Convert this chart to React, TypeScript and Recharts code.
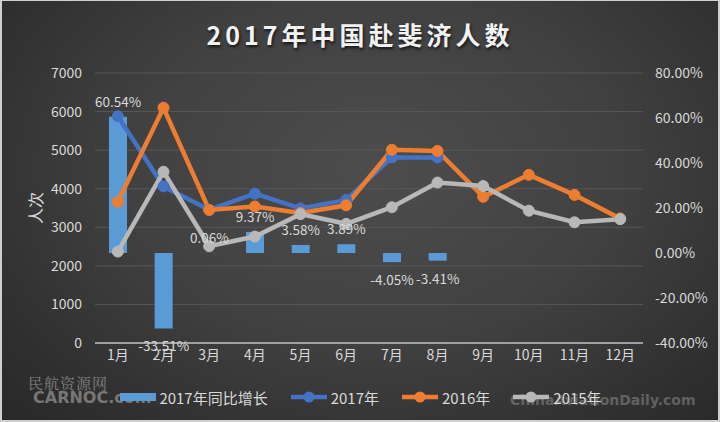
import React from 'react';
import {
  ComposedChart,
  Bar,
  Line,
  XAxis,
  YAxis,
  CartesianGrid,
  Legend,
  LabelList,
} from 'recharts';

const months = ['1月', '2月', '3月', '4月', '5月', '6月', '7月', '8月', '9月', '10月', '11月', '12月'];
const growth2017: (number | null)[] = [60.54, -33.51, 0.06, 9.37, 3.58, 3.89, -4.05, -3.41, null, null, null, null];
const visitors2017: (number | null)[] = [5880, 4060, 3452, 3870, 3490, 3710, 4810, 4810, null, null, null, null];
const visitors2016: number[] = [3660, 6100, 3450, 3540, 3370, 3570, 5010, 4980, 3790, 4360, 3840, 3230];
const visitors2015: number[] = [2370, 4440, 2510, 2760, 3340, 3090, 3520, 4160, 4070, 3430, 3130, 3210];
const leftTicks = [0, 1000, 2000, 3000, 4000, 5000, 6000, 7000];
const rightTicks = [-0.4, -0.2, 0, 0.2, 0.4, 0.6, 0.8];

const title = '2017年中国赴斐济人数';
const yTitle = '人次';
const seriesNames = { growth: '2017年同比增长', y2017: '2017年', y2016: '2016年', y2015: '2015年' };

const COLORS = {
  bar: '#5B9BD5',
  y2017: '#4472C4',
  y2016: '#ED7D31',
  y2015: '#B8B8B8',
  text: '#D9D9D9',
  grid: '#575757',
  axis: '#BFBFBF',
};

const data = months.map((m, i) => ({
  month: m,
  growth: growth2017[i] == null ? null : (growth2017[i] as number) / 100,
  y2017: visitors2017[i],
  y2016: visitors2016[i],
  y2015: visitors2015[i],
}));

const FONT = '"Noto Sans CJK SC", "Noto Sans", sans-serif';

const pct = (v: number) => `${(v * 100).toFixed(2)}%`;

const BarLabel = (props: any) => {
  const { x, y, width, height, value } = props;
  if (value == null) return null;
  const top = Math.min(y, y + height);
  const bottom = Math.max(y, y + height);
  const cx = x + width / 2;
  const ty = value >= 0 ? top - 16 : bottom + 17;
  return (
    <text
      x={cx}
      y={ty}
      textAnchor="middle"
      dominantBaseline="central"
      fill={COLORS.text}
      fontSize={13.5}
      fontFamily={FONT}
    >
      {pct(value)}
    </text>
  );
};

const YLabel = (props: any) => {
  const vb = props.viewBox || {};
  const x = vb.x - 15;
  const y = vb.y + vb.height / 2;
  return (
    <text
      x={x}
      y={y}
      transform={`rotate(-90, ${x}, ${y})`}
      textAnchor="middle"
      dominantBaseline="central"
      fill={COLORS.text}
      fontSize={16}
      fontFamily={FONT}
    >
      {yTitle}
    </text>
  );
};

const legendItems = [
  { key: 'growth', type: 'bar', color: COLORS.bar },
  { key: 'y2017', type: 'line', color: COLORS.y2017 },
  { key: 'y2016', type: 'line', color: COLORS.y2016 },
  { key: 'y2015', type: 'line', color: COLORS.y2015 },
];

const LegendContent = () => (
  <div
    style={{
      display: 'flex',
      justifyContent: 'center',
      alignItems: 'center',
      height: 24,
      width: 720,
      fontFamily: FONT,
      fontSize: 15,
      color: COLORS.text,
      gap: 22,
    }}
  >
    {legendItems.map((it) => (
      <div key={it.key} style={{ display: 'flex', alignItems: 'center', gap: 3 }}>
        <svg width={38} height={14}>
          {it.type === 'bar' ? (
            <rect x={2} y={3} width={36} height={8} fill={it.color} />
          ) : (
            <g>
              <line x1={1} y1={7} x2={37} y2={7} stroke={it.color} strokeWidth={4.5} />
              <circle cx={19} cy={7} r={5.5} fill={it.color} />
            </g>
          )}
        </svg>
        <span>{(seriesNames as any)[it.key]}</span>
      </div>
    ))}
  </div>
);

export default function App() {
  return (
    <div
      style={{
        position: 'absolute',
        left: 0,
        top: 0,
        width: 720,
        height: 422,
        boxSizing: 'border-box',
        borderTop: '1px solid #cfcfcf',
        borderLeft: '2px solid #cfcfcf',
        borderRight: '2px solid #cfcfcf',
        borderBottom: '2px solid #cfcfcf',
        background:
          'radial-gradient(ellipse 75% 90% at 52% 40%, #4d4d4d 0%, #414141 45%, #2f2f2f 80%, #272727 100%)',
        overflow: 'hidden',
        fontFamily: FONT,
      }}
    >
      <div
        style={{
          position: 'absolute',
          left: 0,
          top: 15,
          width: 716,
          textAlign: 'center',
          color: '#F2F2F2',
          fontSize: 25,
          fontWeight: 700,
          letterSpacing: 4,
          lineHeight: '36px',
          textShadow: '1px 2px 3px rgba(0,0,0,0.7)',
        }}
      >
        {title}
      </div>
      <div
        style={{
          position: 'absolute',
          left: 26,
          top: 371,
          color: '#8f8f8f',
          fontSize: 15,
          fontFamily: '"Noto Serif CJK SC", "Noto Sans CJK SC", serif',
          letterSpacing: 1,
          opacity: 0.85,
          pointerEvents: 'none',
        }}
      >
        民航资源网
      </div>
      <div
        style={{
          position: 'absolute',
          left: 31,
          top: 387,
          color: '#8a8a8a',
          fontSize: 16,
          fontWeight: 900,
          fontFamily: '"DejaVu Sans", sans-serif',
          opacity: 0.8,
          pointerEvents: 'none',
        }}
      >
        CARNOC.com
      </div>
      <div
        style={{
          position: 'absolute',
          left: 508,
          top: 391,
          color: '#8a8a8a',
          fontSize: 14,
          fontWeight: 900,
          fontFamily: '"DejaVu Sans", sans-serif',
          opacity: 0.55,
          pointerEvents: 'none',
        }}
      >
        ChinaAviationDaily.com
      </div>
      <div style={{ position: 'absolute', left: -2, top: -1 }}>
        <ComposedChart
          width={720}
          height={422}
          data={data}
          margin={{ top: 73, right: 12, left: 50, bottom: 13 }}
        >
          <CartesianGrid yAxisId="left" horizontal vertical={false} stroke={COLORS.grid} strokeWidth={1} />
          <XAxis
            dataKey="month"
            tickLine={false}
            axisLine={{ stroke: COLORS.axis, strokeWidth: 1.5 }}
            tick={{ fill: COLORS.text, fontSize: 14, fontFamily: FONT }}
            height={42}
            tickSize={0}
            tickMargin={7}
            interval={0}
          />
          <YAxis
            yAxisId="left"
            orientation="left"
            domain={[0, 7000]}
            ticks={leftTicks}
            width={45}
            tickLine={false}
            axisLine={false}
            tickSize={0}
            tickMargin={13}
            tick={{ fill: COLORS.text, fontSize: 14, fontFamily: FONT }}
            label={<YLabel />}
          />
          <YAxis
            yAxisId="right"
            orientation="right"
            domain={[-0.4, 0.8]}
            ticks={rightTicks}
            width={65}
            tickLine={false}
            axisLine={false}
            tickSize={0}
            tickMargin={12}
            tickFormatter={pct}
            tick={{ fill: COLORS.text, fontSize: 14, fontFamily: FONT }}
          />
          <Bar
            yAxisId="right"
            dataKey="growth"
            name={seriesNames.growth}
            fill={COLORS.bar}
            barSize={18}
            isAnimationActive={false}
          >
            <LabelList dataKey="growth" content={<BarLabel />} />
          </Bar>
          <Line
            yAxisId="left"
            type="linear"
            dataKey="y2017"
            name={seriesNames.y2017}
            stroke={COLORS.y2017}
            strokeWidth={4.5}
            dot={{ r: 5.5, fill: COLORS.y2017, stroke: COLORS.y2017, strokeWidth: 1 }}
            activeDot={false}
            isAnimationActive={false}
          />
          <Line
            yAxisId="left"
            type="linear"
            dataKey="y2016"
            name={seriesNames.y2016}
            stroke={COLORS.y2016}
            strokeWidth={4.5}
            dot={{ r: 5.5, fill: COLORS.y2016, stroke: COLORS.y2016, strokeWidth: 1 }}
            activeDot={false}
            isAnimationActive={false}
          />
          <Line
            yAxisId="left"
            type="linear"
            dataKey="y2015"
            name={seriesNames.y2015}
            stroke={COLORS.y2015}
            strokeWidth={4.5}
            dot={{ r: 5.5, fill: COLORS.y2015, stroke: COLORS.y2015, strokeWidth: 1 }}
            activeDot={false}
            isAnimationActive={false}
          />
          <Legend verticalAlign="bottom" content={<LegendContent />} wrapperStyle={{ left: 0, width: 720 }} />
        </ComposedChart>
      </div>
    </div>
  );
}
